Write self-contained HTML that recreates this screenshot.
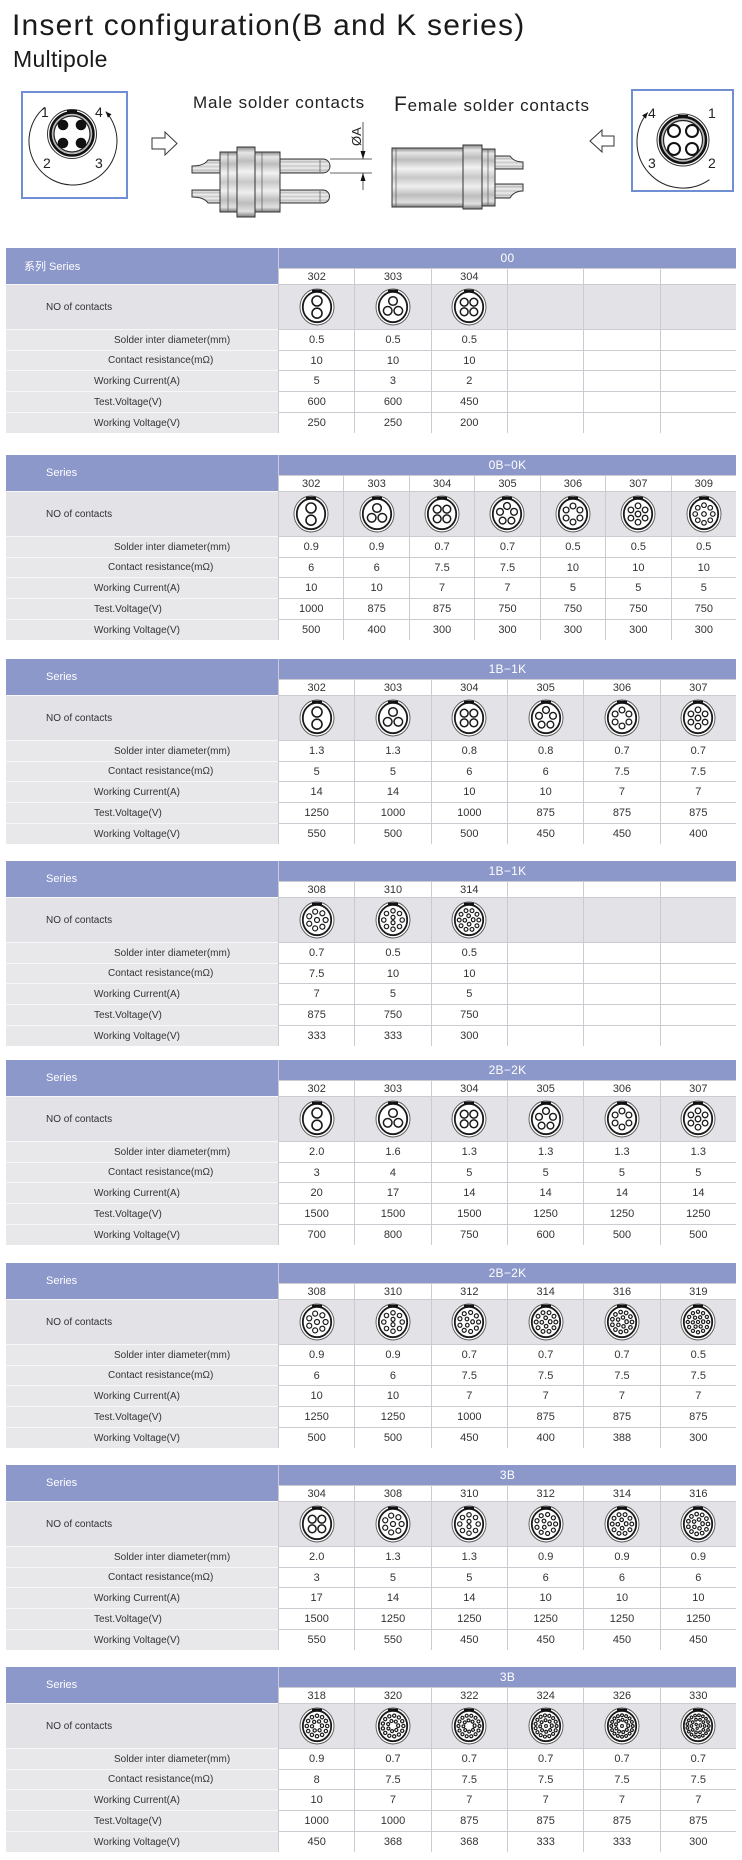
<!DOCTYPE html>
<html><head><meta charset="utf-8">
<style>
*{margin:0;padding:0;box-sizing:border-box}
html,body{width:742px;height:1860px;background:#fff;overflow:hidden}
body{position:relative;font-family:"Liberation Sans","Noto Sans CJK SC",sans-serif;color:#333}
.t{position:absolute;left:6px;width:730px;height:185px;display:grid;grid-template-columns:272px repeat(6,1fr);grid-template-rows:20px 15px 44px 20px 19px 20px 20px 20px;gap:1px;background:linear-gradient(to right,#f7f7f8 0,#f7f7f8 272px,#cbccd2 272px)}
.t7{grid-template-columns:272px repeat(7,1fr)}
.sh{grid-row:1/3;background:#8c97ca;color:#fff;font-size:11px;display:flex;align-items:center;padding-left:40px}
.band{grid-column:2/-1;background:#8c97ca;color:#fff;font-size:12px;display:flex;align-items:center;justify-content:center;letter-spacing:.3px}
.n{background:#fff;font-size:11px;display:flex;align-items:center;justify-content:center}
.lc{background:#e2e2e7;font-size:10px;display:flex;align-items:center;padding-left:40px}
.ic{background:#e2e2e7;display:flex;align-items:center;justify-content:center}
.l{background:#e8e8eb;font-size:10px;display:flex;align-items:center;padding-left:88px;white-space:nowrap}
.l.a{padding-left:108px}.l.b{padding-left:102px}
.d{background:#fff;font-size:11px;display:flex;align-items:center;justify-content:center}
.rk{fill:none;stroke:#1a1a1a;stroke-linecap:round;stroke-dasharray:0.001 0.999}
.rw{fill:none;stroke:#fff;stroke-linecap:round;stroke-dasharray:0.001 0.999}
</style></head><body>

<svg width="0" height="0" style="position:absolute">
<defs>
<g id="base">
<ellipse rx="17" ry="18" fill="#fff" stroke="#555" stroke-width="0.9"/>
<ellipse rx="14.2" ry="15.2" fill="#fff" stroke="#1a1a1a" stroke-width="1.8"/>
<rect x="-5" y="-17.3" width="10" height="2.6" fill="#111"/>
</g>
<symbol id="p2" viewBox="-18 -19 36 38"><use href="#base"/><g fill="none" stroke="#1a1a1a" stroke-width="1.6"><circle cy="-6" r="5"/><circle cy="6.2" r="5"/></g></symbol>
<symbol id="p3" viewBox="-18 -19 36 38"><use href="#base"/><g fill="none" stroke="#1a1a1a" stroke-width="1.5"><circle cy="-6" r="4.3"/><circle cx="-5.3" cy="3.8" r="4.3"/><circle cx="5.3" cy="3.8" r="4.3"/></g></symbol>
<symbol id="p4" viewBox="-18 -19 36 38"><use href="#base"/><g fill="none" stroke="#1a1a1a" stroke-width="1.5"><circle cx="-4.8" cy="-4.8" r="3.9"/><circle cx="4.8" cy="-4.8" r="3.9"/><circle cx="-4.8" cy="4.8" r="3.9"/><circle cx="4.8" cy="4.8" r="3.9"/></g></symbol>
<symbol id="p5" viewBox="-18 -19 36 38"><use href="#base"/><g fill="none" stroke="#1a1a1a" stroke-width="1.4"><circle cy="-8" r="3.4"/><circle cx="-7" cy="-2.2" r="3.4"/><circle cx="7" cy="-2.2" r="3.4"/><circle cx="-4.4" cy="6.6" r="3.4"/><circle cx="4.4" cy="6.6" r="3.4"/></g></symbol>
<symbol id="p6" viewBox="-18 -19 36 38"><use href="#base"/><g fill="none" stroke="#1a1a1a" stroke-width="1.3"><circle cy="-8" r="2.9"/><circle cx="6.9" cy="-4" r="2.9"/><circle cx="6.9" cy="4" r="2.9"/><circle cy="8" r="2.9"/><circle cx="-6.9" cy="4" r="2.9"/><circle cx="-6.9" cy="-4" r="2.9"/></g></symbol>
<symbol id="p7" viewBox="-18 -19 36 38"><use href="#base"/><g fill="none" stroke="#1a1a1a" stroke-width="1.3"><circle cy="-8.2" r="2.8"/><circle cx="7.1" cy="-4.1" r="2.8"/><circle cx="7.1" cy="4.1" r="2.8"/><circle cy="8.2" r="2.8"/><circle cx="-7.1" cy="4.1" r="2.8"/><circle cx="-7.1" cy="-4.1" r="2.8"/><circle r="2.8"/></g></symbol>
<symbol id="p8" viewBox="-18 -19 36 38"><use href="#base"/><circle class="rk" r="8.6" pathLength="7" stroke-width="6.2"/><circle class="rw" r="8.6" pathLength="7" stroke-width="3.8"/><circle r="2.5" fill="none" stroke="#1a1a1a" stroke-width="1.2"/></symbol>
<symbol id="p9" viewBox="-18 -19 36 38"><use href="#base"/><circle class="rk" r="8.8" pathLength="8" stroke-width="5.8"/><circle class="rw" r="8.8" pathLength="8" stroke-width="3.4"/><circle r="2.3" fill="none" stroke="#1a1a1a" stroke-width="1.2"/></symbol>
<symbol id="p10" viewBox="-18 -19 36 38"><use href="#base"/><circle class="rk" r="9.2" pathLength="8" stroke-width="5.6"/><circle class="rw" r="9.2" pathLength="8" stroke-width="3.2"/><g fill="none" stroke="#1a1a1a" stroke-width="1.2"><circle cy="-2.6" r="2"/><circle cy="2.6" r="2"/></g></symbol>
<symbol id="p12" viewBox="-18 -19 36 38"><use href="#base"/><circle class="rk" r="9.6" pathLength="9" stroke-width="5.2"/><circle class="rw" r="9.6" pathLength="9" stroke-width="2.8"/><circle class="rk" r="3.6" pathLength="3" stroke-width="4.8"/><circle class="rw" r="3.6" pathLength="3" stroke-width="2.4"/></symbol>
<symbol id="p14" viewBox="-18 -19 36 38"><use href="#base"/><circle class="rk" r="9.8" pathLength="10" stroke-width="5"/><circle class="rw" r="9.8" pathLength="10" stroke-width="2.6"/><circle class="rk" r="4.2" pathLength="4" stroke-width="4.8"/><circle class="rw" r="4.2" pathLength="4" stroke-width="2.4"/></symbol>
<symbol id="p16" viewBox="-18 -19 36 38"><use href="#base"/><circle class="rk" r="10" pathLength="11" stroke-width="4.8"/><circle class="rw" r="10" pathLength="11" stroke-width="2.4"/><circle class="rk" r="4.6" pathLength="5" stroke-width="4.6"/><circle class="rw" r="4.6" pathLength="5" stroke-width="2.2"/></symbol>
<symbol id="p18" viewBox="-18 -19 36 38"><use href="#base"/><circle class="rk" r="10.2" pathLength="12" stroke-width="4.6"/><circle class="rw" r="10.2" pathLength="12" stroke-width="2.2"/><circle class="rk" r="5" pathLength="6" stroke-width="4.4"/><circle class="rw" r="5" pathLength="6" stroke-width="2"/></symbol>
<symbol id="p19" viewBox="-18 -19 36 38"><use href="#base"/><circle class="rk" r="10.2" pathLength="12" stroke-width="4.4"/><circle class="rw" r="10.2" pathLength="12" stroke-width="2"/><circle class="rk" r="5.2" pathLength="6" stroke-width="4.4"/><circle class="rw" r="5.2" pathLength="6" stroke-width="2"/><circle r="1.6" fill="none" stroke="#1a1a1a" stroke-width="1.1"/></symbol>
<symbol id="p20" viewBox="-18 -19 36 38"><use href="#base"/><circle class="rk" r="10.4" pathLength="13" stroke-width="4.4"/><circle class="rw" r="10.4" pathLength="13" stroke-width="2"/><circle class="rk" r="5.2" pathLength="7" stroke-width="4.2"/><circle class="rw" r="5.2" pathLength="7" stroke-width="1.8"/></symbol>
<symbol id="p22" viewBox="-18 -19 36 38"><use href="#base"/><circle class="rk" r="10.5" pathLength="14" stroke-width="4.2"/><circle class="rw" r="10.5" pathLength="14" stroke-width="1.8"/><circle class="rk" r="5.6" pathLength="8" stroke-width="4"/><circle class="rw" r="5.6" pathLength="8" stroke-width="1.6"/></symbol>
<symbol id="p24" viewBox="-18 -19 36 38"><use href="#base"/><circle class="rk" r="10.6" pathLength="15" stroke-width="4.2"/><circle class="rw" r="10.6" pathLength="15" stroke-width="1.8"/><circle class="rk" r="5.8" pathLength="8" stroke-width="4"/><circle class="rw" r="5.8" pathLength="8" stroke-width="1.6"/><circle r="1.4" fill="none" stroke="#1a1a1a" stroke-width="1.1"/></symbol>
<symbol id="p26" viewBox="-18 -19 36 38"><use href="#base"/><circle class="rk" r="10.7" pathLength="16" stroke-width="4"/><circle class="rw" r="10.7" pathLength="16" stroke-width="1.6"/><circle class="rk" r="6.2" pathLength="9" stroke-width="4"/><circle class="rw" r="6.2" pathLength="9" stroke-width="1.6"/><circle r="1.4" fill="none" stroke="#1a1a1a" stroke-width="1.1"/></symbol>
<symbol id="p30" viewBox="-18 -19 36 38"><use href="#base"/><circle class="rk" r="10.8" pathLength="17" stroke-width="3.8"/><circle class="rw" r="10.8" pathLength="17" stroke-width="1.4"/><circle class="rk" r="6.6" pathLength="10" stroke-width="3.8"/><circle class="rw" r="6.6" pathLength="10" stroke-width="1.4"/><circle class="rk" r="2.4" pathLength="3" stroke-width="3.4"/><circle class="rw" r="2.4" pathLength="3" stroke-width="1.2"/></symbol>
<linearGradient id="mg" x1="0" y1="0" x2="0" y2="1">
<stop offset="0" stop-color="#8a8a8a"/><stop offset="0.08" stop-color="#e6e6e6"/><stop offset="0.2" stop-color="#bdbdbd"/><stop offset="0.35" stop-color="#f2f2f2"/><stop offset="0.5" stop-color="#c8c8c8"/><stop offset="0.65" stop-color="#efefef"/><stop offset="0.8" stop-color="#bdbdbd"/><stop offset="0.92" stop-color="#e0e0e0"/><stop offset="1" stop-color="#7a7a7a"/>
</linearGradient>
</defs>
</svg>

<!-- Header -->
<svg style="position:absolute;left:0;top:0" width="742" height="240" viewBox="0 0 742 240" font-family="Liberation Sans, sans-serif">
<text x="12" y="35" font-size="30" letter-spacing="1.2" fill="#1a1a1a">Insert configuration(B and K series)</text>
<text x="13" y="67" font-size="23" letter-spacing="0.3" fill="#1a1a1a">Multipole</text>

<!-- left box -->
<rect x="22" y="92" width="105" height="106" fill="#fff" stroke="#6f8fd2" stroke-width="2"/>
<path d="M44.7,107.3 A44,44 0 1 0 105.7,111.6" fill="none" stroke="#222" stroke-width="1"/>
<polygon points="105.7,111.6 111.5,114.3 107.9,117.7" fill="#111"/>
<circle cx="72" cy="134" r="24.5" fill="#fff" stroke="#333" stroke-width="1"/>
<circle cx="72" cy="134" r="21.5" fill="#bbb" stroke="#111" stroke-width="2.5"/>
<circle cx="72" cy="134" r="18" fill="#fff" stroke="#222" stroke-width="1.2"/>
<rect x="67" y="110" width="10" height="3" fill="#111"/>
<g fill="#111"><circle cx="63" cy="125" r="5.3"/><circle cx="81" cy="125" r="5.3"/><circle cx="63" cy="143" r="5.3"/><circle cx="81" cy="143" r="5.3"/></g>
<g font-size="14" fill="#222"><text x="41" y="117">1</text><text x="95" y="117">4</text><text x="43" y="168">2</text><text x="95" y="168">3</text></g>

<!-- right hollow arrow -->
<path d="M152,138 h13 v-6 l12,11.5 l-12,11.5 v-6 h-13 z" fill="#fff" stroke="#333" stroke-width="1"/>

<text x="193" y="108" font-size="17" letter-spacing="0.8" fill="#222">Male solder contacts</text>
<text x="394" y="111" font-size="17" letter-spacing="0.8" fill="#222"><tspan font-size="21">F</tspan>emale solder contacts</text>

<!-- male connector -->
<g stroke="#333" stroke-width="1" fill="url(#mg)">
<path d="M222,160 L208,160 Q204,166 192,166 L192,173 L222,173 Z"/>
<path d="M222,190 L192,190 L192,197 Q204,197 208,203 L222,203 Z"/>
<path d="M279,159 H323 A7,7 0 0 1 323,173 H279 Z"/>
<path d="M279,190 H323 A6.5,6.5 0 0 1 323,203 H279 Z"/>
<rect x="220" y="152" width="60" height="60"/>
<rect x="237" y="147" width="18" height="70"/>
</g>
<g stroke="#555" stroke-width="0.7"><line x1="228" y1="152" x2="228" y2="212"/><line x1="262" y1="152" x2="262" y2="212"/><line x1="320" y1="160" x2="320" y2="172"/><line x1="320" y1="191" x2="320" y2="202"/></g>
<g stroke="#333" stroke-width="0.8"><line x1="330" y1="159" x2="372" y2="159"/><line x1="330" y1="173" x2="372" y2="173"/><line x1="363" y1="122" x2="363" y2="159"/><line x1="363" y1="173" x2="363" y2="190"/></g>
<polygon points="360.5,151 365.5,151 363,159" fill="#111"/>
<polygon points="360.5,181 365.5,181 363,173" fill="#111"/>
<text transform="translate(361,146) rotate(-90)" font-size="13" fill="#222">ØA</text>

<!-- female connector -->
<g stroke="#333" stroke-width="1" fill="url(#mg)">
<rect x="392" y="148" width="71" height="59"/>
<path d="M495,156 L510,156 Q514,162 523,162 L523,169 L495,169 Z"/>
<path d="M495,184 L523,184 L523,191 Q514,191 510,198 L495,198 Z"/>
<rect x="482" y="149" width="13" height="57"/>
<rect x="463" y="145" width="19" height="64"/>
</g>
<g stroke="#555" stroke-width="0.7"><line x1="396" y1="148" x2="396" y2="207"/><line x1="488" y1="149" x2="488" y2="206"/></g>

<!-- left hollow arrow -->
<path d="M614,136 h-12 v-6 l-12,11 l12,11 v-6 h12 z" fill="#fff" stroke="#333" stroke-width="1"/>

<!-- right box -->
<rect x="632" y="90" width="101" height="101" fill="#fff" stroke="#6f8fd2" stroke-width="2"/>
<path d="M709.4,179.7 A46,46 0 0 1 647.8,112.4" fill="none" stroke="#222" stroke-width="1"/>
<polygon points="647.8,112.4 645.9,118.6 642.1,115.4" fill="#111"/>
<circle cx="683" cy="140" r="26" fill="#fff" stroke="#333" stroke-width="1"/>
<circle cx="683" cy="140" r="23" fill="#bbb" stroke="#111" stroke-width="2.5"/>
<circle cx="683" cy="140" r="19.5" fill="#fff" stroke="#222" stroke-width="1.2"/>
<rect x="678" y="115" width="10" height="3" fill="#111"/>
<g fill="#fff" stroke="#111" stroke-width="2"><circle cx="674" cy="131" r="6"/><circle cx="692" cy="131" r="6"/><circle cx="674" cy="149" r="6"/><circle cx="692" cy="149" r="6"/></g>
<g font-size="14" fill="#222"><text x="648" y="118">4</text><text x="708" y="118">1</text><text x="648" y="168">3</text><text x="708" y="168">2</text></g>
</svg>

<!-- Table 1 -->
<div class="t" style="top:248px">
<div class="sh" style="padding-left:18px">系列 Series</div><div class="band">00</div>
<div class="n">302</div><div class="n">303</div><div class="n">304</div><div class="n"></div><div class="n"></div><div class="n"></div>
<div class="lc">NO of contacts</div>
<div class="ic"><svg width="36" height="38"><use href="#p2"/></svg></div><div class="ic"><svg width="36" height="38"><use href="#p3"/></svg></div><div class="ic"><svg width="36" height="38"><use href="#p4"/></svg></div><div class="ic"></div><div class="ic"></div><div class="ic"></div>
<div class="l a">Solder inter diameter(mm)</div><div class="d">0.5</div><div class="d">0.5</div><div class="d">0.5</div><div class="d"></div><div class="d"></div><div class="d"></div>
<div class="l b">Contact resistance(mΩ)</div><div class="d">10</div><div class="d">10</div><div class="d">10</div><div class="d"></div><div class="d"></div><div class="d"></div>
<div class="l">Working Current(A)</div><div class="d">5</div><div class="d">3</div><div class="d">2</div><div class="d"></div><div class="d"></div><div class="d"></div>
<div class="l">Test.Voltage(V)</div><div class="d">600</div><div class="d">600</div><div class="d">450</div><div class="d"></div><div class="d"></div><div class="d"></div>
<div class="l">Working Voltage(V)</div><div class="d">250</div><div class="d">250</div><div class="d">200</div><div class="d"></div><div class="d"></div><div class="d"></div>
</div>

<!-- Table 2 -->
<div class="t t7" style="top:455px">
<div class="sh">Series</div><div class="band">0B−0K</div>
<div class="n">302</div><div class="n">303</div><div class="n">304</div><div class="n">305</div><div class="n">306</div><div class="n">307</div><div class="n">309</div>
<div class="lc">NO of contacts</div>
<div class="ic"><svg width="36" height="38"><use href="#p2"/></svg></div><div class="ic"><svg width="36" height="38"><use href="#p3"/></svg></div><div class="ic"><svg width="36" height="38"><use href="#p4"/></svg></div><div class="ic"><svg width="36" height="38"><use href="#p5"/></svg></div><div class="ic"><svg width="36" height="38"><use href="#p6"/></svg></div><div class="ic"><svg width="36" height="38"><use href="#p7"/></svg></div><div class="ic"><svg width="36" height="38"><use href="#p9"/></svg></div>
<div class="l a">Solder inter diameter(mm)</div><div class="d">0.9</div><div class="d">0.9</div><div class="d">0.7</div><div class="d">0.7</div><div class="d">0.5</div><div class="d">0.5</div><div class="d">0.5</div>
<div class="l b">Contact resistance(mΩ)</div><div class="d">6</div><div class="d">6</div><div class="d">7.5</div><div class="d">7.5</div><div class="d">10</div><div class="d">10</div><div class="d">10</div>
<div class="l">Working Current(A)</div><div class="d">10</div><div class="d">10</div><div class="d">7</div><div class="d">7</div><div class="d">5</div><div class="d">5</div><div class="d">5</div>
<div class="l">Test.Voltage(V)</div><div class="d">1000</div><div class="d">875</div><div class="d">875</div><div class="d">750</div><div class="d">750</div><div class="d">750</div><div class="d">750</div>
<div class="l">Working Voltage(V)</div><div class="d">500</div><div class="d">400</div><div class="d">300</div><div class="d">300</div><div class="d">300</div><div class="d">300</div><div class="d">300</div>
</div>

<!-- Table 3 -->
<div class="t" style="top:659px">
<div class="sh">Series</div><div class="band">1B−1K</div>
<div class="n">302</div><div class="n">303</div><div class="n">304</div><div class="n">305</div><div class="n">306</div><div class="n">307</div>
<div class="lc">NO of contacts</div>
<div class="ic"><svg width="36" height="38"><use href="#p2"/></svg></div><div class="ic"><svg width="36" height="38"><use href="#p3"/></svg></div><div class="ic"><svg width="36" height="38"><use href="#p4"/></svg></div><div class="ic"><svg width="36" height="38"><use href="#p5"/></svg></div><div class="ic"><svg width="36" height="38"><use href="#p6"/></svg></div><div class="ic"><svg width="36" height="38"><use href="#p7"/></svg></div>
<div class="l a">Solder inter diameter(mm)</div><div class="d">1.3</div><div class="d">1.3</div><div class="d">0.8</div><div class="d">0.8</div><div class="d">0.7</div><div class="d">0.7</div>
<div class="l b">Contact resistance(mΩ)</div><div class="d">5</div><div class="d">5</div><div class="d">6</div><div class="d">6</div><div class="d">7.5</div><div class="d">7.5</div>
<div class="l">Working Current(A)</div><div class="d">14</div><div class="d">14</div><div class="d">10</div><div class="d">10</div><div class="d">7</div><div class="d">7</div>
<div class="l">Test.Voltage(V)</div><div class="d">1250</div><div class="d">1000</div><div class="d">1000</div><div class="d">875</div><div class="d">875</div><div class="d">875</div>
<div class="l">Working Voltage(V)</div><div class="d">550</div><div class="d">500</div><div class="d">500</div><div class="d">450</div><div class="d">450</div><div class="d">400</div>
</div>

<!-- Table 4 -->
<div class="t" style="top:861px">
<div class="sh">Series</div><div class="band">1B−1K</div>
<div class="n">308</div><div class="n">310</div><div class="n">314</div><div class="n"></div><div class="n"></div><div class="n"></div>
<div class="lc">NO of contacts</div>
<div class="ic"><svg width="36" height="38"><use href="#p8"/></svg></div><div class="ic"><svg width="36" height="38"><use href="#p10"/></svg></div><div class="ic"><svg width="36" height="38"><use href="#p14"/></svg></div><div class="ic"></div><div class="ic"></div><div class="ic"></div>
<div class="l a">Solder inter diameter(mm)</div><div class="d">0.7</div><div class="d">0.5</div><div class="d">0.5</div><div class="d"></div><div class="d"></div><div class="d"></div>
<div class="l b">Contact resistance(mΩ)</div><div class="d">7.5</div><div class="d">10</div><div class="d">10</div><div class="d"></div><div class="d"></div><div class="d"></div>
<div class="l">Working Current(A)</div><div class="d">7</div><div class="d">5</div><div class="d">5</div><div class="d"></div><div class="d"></div><div class="d"></div>
<div class="l">Test.Voltage(V)</div><div class="d">875</div><div class="d">750</div><div class="d">750</div><div class="d"></div><div class="d"></div><div class="d"></div>
<div class="l">Working Voltage(V)</div><div class="d">333</div><div class="d">333</div><div class="d">300</div><div class="d"></div><div class="d"></div><div class="d"></div>
</div>

<!-- Table 5 -->
<div class="t" style="top:1060px">
<div class="sh">Series</div><div class="band">2B−2K</div>
<div class="n">302</div><div class="n">303</div><div class="n">304</div><div class="n">305</div><div class="n">306</div><div class="n">307</div>
<div class="lc">NO of contacts</div>
<div class="ic"><svg width="36" height="38"><use href="#p2"/></svg></div><div class="ic"><svg width="36" height="38"><use href="#p3"/></svg></div><div class="ic"><svg width="36" height="38"><use href="#p4"/></svg></div><div class="ic"><svg width="36" height="38"><use href="#p5"/></svg></div><div class="ic"><svg width="36" height="38"><use href="#p6"/></svg></div><div class="ic"><svg width="36" height="38"><use href="#p7"/></svg></div>
<div class="l a">Solder inter diameter(mm)</div><div class="d">2.0</div><div class="d">1.6</div><div class="d">1.3</div><div class="d">1.3</div><div class="d">1.3</div><div class="d">1.3</div>
<div class="l b">Contact resistance(mΩ)</div><div class="d">3</div><div class="d">4</div><div class="d">5</div><div class="d">5</div><div class="d">5</div><div class="d">5</div>
<div class="l">Working Current(A)</div><div class="d">20</div><div class="d">17</div><div class="d">14</div><div class="d">14</div><div class="d">14</div><div class="d">14</div>
<div class="l">Test.Voltage(V)</div><div class="d">1500</div><div class="d">1500</div><div class="d">1500</div><div class="d">1250</div><div class="d">1250</div><div class="d">1250</div>
<div class="l">Working Voltage(V)</div><div class="d">700</div><div class="d">800</div><div class="d">750</div><div class="d">600</div><div class="d">500</div><div class="d">500</div>
</div>

<!-- Table 6 -->
<div class="t" style="top:1263px">
<div class="sh">Series</div><div class="band">2B−2K</div>
<div class="n">308</div><div class="n">310</div><div class="n">312</div><div class="n">314</div><div class="n">316</div><div class="n">319</div>
<div class="lc">NO of contacts</div>
<div class="ic"><svg width="36" height="38"><use href="#p8"/></svg></div><div class="ic"><svg width="36" height="38"><use href="#p10"/></svg></div><div class="ic"><svg width="36" height="38"><use href="#p12"/></svg></div><div class="ic"><svg width="36" height="38"><use href="#p14"/></svg></div><div class="ic"><svg width="36" height="38"><use href="#p16"/></svg></div><div class="ic"><svg width="36" height="38"><use href="#p19"/></svg></div>
<div class="l a">Solder inter diameter(mm)</div><div class="d">0.9</div><div class="d">0.9</div><div class="d">0.7</div><div class="d">0.7</div><div class="d">0.7</div><div class="d">0.5</div>
<div class="l b">Contact resistance(mΩ)</div><div class="d">6</div><div class="d">6</div><div class="d">7.5</div><div class="d">7.5</div><div class="d">7.5</div><div class="d">7.5</div>
<div class="l">Working Current(A)</div><div class="d">10</div><div class="d">10</div><div class="d">7</div><div class="d">7</div><div class="d">7</div><div class="d">7</div>
<div class="l">Test.Voltage(V)</div><div class="d">1250</div><div class="d">1250</div><div class="d">1000</div><div class="d">875</div><div class="d">875</div><div class="d">875</div>
<div class="l">Working Voltage(V)</div><div class="d">500</div><div class="d">500</div><div class="d">450</div><div class="d">400</div><div class="d">388</div><div class="d">300</div>
</div>

<!-- Table 7 -->
<div class="t" style="top:1465px">
<div class="sh">Series</div><div class="band">3B</div>
<div class="n">304</div><div class="n">308</div><div class="n">310</div><div class="n">312</div><div class="n">314</div><div class="n">316</div>
<div class="lc">NO of contacts</div>
<div class="ic"><svg width="36" height="38"><use href="#p4"/></svg></div><div class="ic"><svg width="36" height="38"><use href="#p8"/></svg></div><div class="ic"><svg width="36" height="38"><use href="#p10"/></svg></div><div class="ic"><svg width="36" height="38"><use href="#p12"/></svg></div><div class="ic"><svg width="36" height="38"><use href="#p14"/></svg></div><div class="ic"><svg width="36" height="38"><use href="#p16"/></svg></div>
<div class="l a">Solder inter diameter(mm)</div><div class="d">2.0</div><div class="d">1.3</div><div class="d">1.3</div><div class="d">0.9</div><div class="d">0.9</div><div class="d">0.9</div>
<div class="l b">Contact resistance(mΩ)</div><div class="d">3</div><div class="d">5</div><div class="d">5</div><div class="d">6</div><div class="d">6</div><div class="d">6</div>
<div class="l">Working Current(A)</div><div class="d">17</div><div class="d">14</div><div class="d">14</div><div class="d">10</div><div class="d">10</div><div class="d">10</div>
<div class="l">Test.Voltage(V)</div><div class="d">1500</div><div class="d">1250</div><div class="d">1250</div><div class="d">1250</div><div class="d">1250</div><div class="d">1250</div>
<div class="l">Working Voltage(V)</div><div class="d">550</div><div class="d">550</div><div class="d">450</div><div class="d">450</div><div class="d">450</div><div class="d">450</div>
</div>

<!-- Table 8 -->
<div class="t" style="top:1667px">
<div class="sh">Series</div><div class="band">3B</div>
<div class="n">318</div><div class="n">320</div><div class="n">322</div><div class="n">324</div><div class="n">326</div><div class="n">330</div>
<div class="lc">NO of contacts</div>
<div class="ic"><svg width="36" height="38"><use href="#p18"/></svg></div><div class="ic"><svg width="36" height="38"><use href="#p20"/></svg></div><div class="ic"><svg width="36" height="38"><use href="#p22"/></svg></div><div class="ic"><svg width="36" height="38"><use href="#p24"/></svg></div><div class="ic"><svg width="36" height="38"><use href="#p26"/></svg></div><div class="ic"><svg width="36" height="38"><use href="#p30"/></svg></div>
<div class="l a">Solder inter diameter(mm)</div><div class="d">0.9</div><div class="d">0.7</div><div class="d">0.7</div><div class="d">0.7</div><div class="d">0.7</div><div class="d">0.7</div>
<div class="l b">Contact resistance(mΩ)</div><div class="d">8</div><div class="d">7.5</div><div class="d">7.5</div><div class="d">7.5</div><div class="d">7.5</div><div class="d">7.5</div>
<div class="l">Working Current(A)</div><div class="d">10</div><div class="d">7</div><div class="d">7</div><div class="d">7</div><div class="d">7</div><div class="d">7</div>
<div class="l">Test.Voltage(V)</div><div class="d">1000</div><div class="d">1000</div><div class="d">875</div><div class="d">875</div><div class="d">875</div><div class="d">875</div>
<div class="l">Working Voltage(V)</div><div class="d">450</div><div class="d">368</div><div class="d">368</div><div class="d">333</div><div class="d">333</div><div class="d">300</div>
</div>

</body></html>
